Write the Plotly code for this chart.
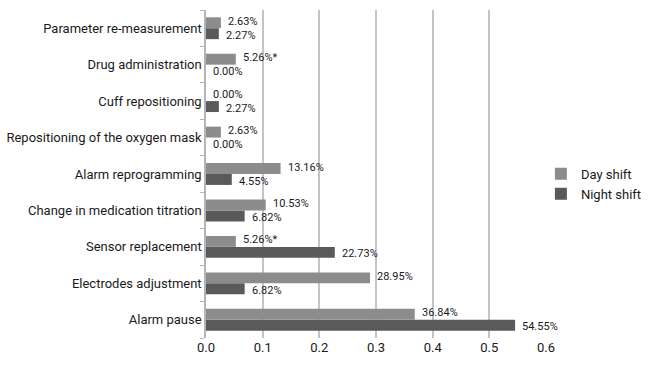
import plotly.graph_objects as go

# Interventions after alarms, bottom-to-top order on the category axis
categories = [
    "Alarm pause",
    "Electrodes adjustment",
    "Sensor replacement",
    "Change in medication titration",
    "Alarm reprogramming",
    "Repositioning of the oxygen mask",
    "Cuff repositioning",
    "Drug administration",
    "Parameter re-measurement",
]
day_shift = [0.3684, 0.2895, 0.0526, 0.1053, 0.1316, 0.0263, 0.0, 0.0526, 0.0263]
night_shift = [0.5455, 0.0682, 0.2273, 0.0682, 0.0455, 0.0, 0.0227, 0.0, 0.0227]
# significance markers appended to the day-shift labels
day_marks = ["", "", "*", "", "", "", "", "*", ""]
night_marks = [""] * 9
x_ticks = [0.0, 0.1, 0.2, 0.3, 0.4, 0.5, 0.6]

FONT = "Roboto, Liberation Sans, sans-serif"
DAY_COLOR = "#8c8c8c"
NIGHT_COLOR = "#5a5a5a"
TEXT_COLOR = "#1a1a1a"


def labels(values, marks):
    return [f"{v * 100:.2f}%{m}" for v, m in zip(values, marks)]


fig = go.Figure()
fig.add_trace(go.Bar(
    y=categories, x=night_shift, orientation="h", name="Night shift",
    marker=dict(color=NIGHT_COLOR, line=dict(width=0)),
    hovertemplate="%{y}: %{x:.2%}<extra>Night shift</extra>",
))
fig.add_trace(go.Bar(
    y=categories, x=day_shift, orientation="h", name="Day shift",
    marker=dict(color=DAY_COLOR, line=dict(width=0)),
    hovertemplate="%{y}: %{x:.2%}<extra>Day shift</extra>",
))

# Value labels just past the end of each bar (day bar sits above the night bar)
for values, marks, shift in ((day_shift, day_marks, 7), (night_shift, night_marks, -7)):
    for cat, val, txt in zip(categories, values, labels(values, marks)):
        fig.add_annotation(
            x=val, y=cat, xref="x", yref="y", text=txt,
            xanchor="left", yanchor="middle", xshift=5, yshift=shift,
            showarrow=False, font=dict(family=FONT, size=11, color=TEXT_COLOR),
        )

fig.update_layout(
    width=651, height=365,
    margin=dict(l=206, r=105, t=10, b=27, autoexpand=False),
    paper_bgcolor="white", plot_bgcolor="white",
    barmode="group", bargap=0.4, bargroupgap=0,
    font=dict(family=FONT, size=13, color=TEXT_COLOR),
    legend=dict(
        x=0.985, y=0.47, xanchor="left", yanchor="middle",
        traceorder="reversed", font=dict(family=FONT, size=13, color=TEXT_COLOR),
        itemwidth=30, tracegroupgap=2, bgcolor="rgba(0,0,0,0)",
    ),
    xaxis=dict(
        range=[0, 0.6], tickvals=x_ticks, ticktext=[f"{t:.1f}" for t in x_ticks],
        showgrid=True, gridcolor="#c4c4c4", gridwidth=1.5,
        zeroline=False, showline=False, ticks="", automargin=False,
        tickfont=dict(family=FONT, size=13, color=TEXT_COLOR),
    ),
    yaxis=dict(
        categoryorder="array", categoryarray=categories,
        showline=True, linecolor="#b4b4b4", linewidth=1.5,
        ticks="outside", tickson="boundaries", ticklen=4, tickcolor="#b4b4b4",
        tickfont=dict(family=FONT, size=13, color=TEXT_COLOR),
        showgrid=False, automargin=False,
    ),
)

fig.write_html("out.html")
